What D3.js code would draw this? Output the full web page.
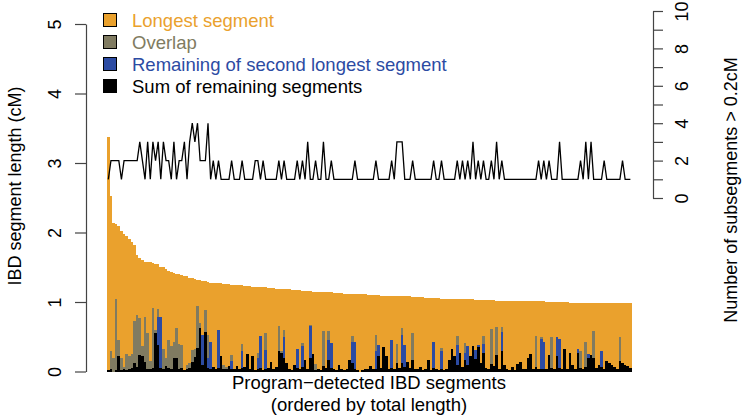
<!DOCTYPE html>
<html><head><meta charset="utf-8">
<script src="https://cdn.jsdelivr.net/npm/d3@7"></script>
<style>
html,body{margin:0;padding:0;background:#fff;}
svg text{font-family:"Liberation Sans",Arial,Helvetica,sans-serif;}
</style></head>
<body>
<svg id="chart" width="742" height="417"></svg>
<script>
// ---- data ----
const totalLength = [
3.38,2.52,2.14,2.12,2.09,2.02,1.98,1.95,1.90,1.86,
1.82,1.68,1.64,1.60,1.58,1.57,1.57,1.56,1.55,1.54,
1.51,1.50,1.48,1.45,1.43,1.42,1.41,1.40,1.39,1.38,
1.37,1.35,1.34,1.33,1.32,1.31,1.30,1.30,1.29,1.28,
1.28,1.27,1.27,1.27,1.26,1.26,1.26,1.25,1.25,1.25,
1.24,1.24,1.23,1.23,1.23,1.22,1.22,1.22,1.21,1.21,
1.21,1.20,1.20,1.20,1.19,1.19,1.19,1.18,1.18,1.18,
1.17,1.17,1.17,1.17,1.16,1.16,1.16,1.16,1.15,1.15,
1.15,1.15,1.14,1.14,1.14,1.14,1.13,1.13,1.13,1.13,
1.12,1.12,1.12,1.12,1.11,1.11,1.11,1.11,1.11,1.10,
1.10,1.10,1.10,1.10,1.09,1.09,1.09,1.09,1.09,1.09,
1.08,1.08,1.08,1.08,1.08,1.08,1.07,1.07,1.07,1.07,
1.07,1.06,1.06,1.06,1.06,1.06,1.06,1.05,1.05,1.05,
1.05,1.05,1.05,1.04,1.04,1.04,1.04,1.04,1.04,1.04,
1.03,1.03,1.03,1.03,1.03,1.03,1.03,1.03,1.02,1.02,
1.02,1.02,1.02,1.02,1.02,1.02,1.02,1.02,1.01,1.01,
1.01,1.01,1.01,1.01,1.01,1.01,1.01,1.00,1.00,1.00,
1.00,1.00,1.00,1.00,1.00,1.00,0.99,0.99,0.99,0.99,
0.99,0.99,0.99,0.99,0.99,0.99,0.99,0.99,0.98,0.98,
0.98,0.98,0.98,0.98,0.98,0.98,0.98,0.98,0.98,0.98];

const remainingSum = [
.02,.03,0,.02,.22,.02,.03,.02,.04,.05,
.12,.06,.24,.22,.13,.04,.03,.05,.56,.38,
.05,.03,.08,.05,.03,.20,.20,.04,.05,.02,
.03,.05,.13,.21,.34,.62,.10,.57,.05,.04,
.07,.03,.05,.22,.04,.03,.08,.04,.03,.08,
.03,.05,.06,.25,.03,.23,.02,.03,.05,.02,
.03,.05,.13,.04,.06,.29,.26,.19,.12,.03,
.02,.10,.05,.03,.06,.17,.04,.19,.25,.02,
.03,.02,.08,.05,.17,.05,.03,.02,.10,.04,
.02,.03,.16,.12,.04,.02,0,.02,.04,.03,
.08,.03,.04,.22,.05,.35,.23,.03,.05,.03,
.12,.05,.12,.06,.14,.05,.17,.04,.03,.07,
.02,.03,.17,.02,.05,.03,.02,.03,.02,.03,
.17,.32,.23,.10,.26,.06,.17,.10,.22,.36,
.18,.35,.12,.27,.05,.04,.11,.08,.24,.04,
.29,.10,.03,.02,.07,.02,.11,.14,.03,.04,
.20,.25,.04,.07,.03,.04,.04,.03,.24,.05,
.03,.22,.05,.04,.32,.04,.27,.10,.03,.26,
.05,.04,.07,.20,.24,.20,.05,.10,.07,.04,
.15,.12,.10,.06,.03,.15,.12,.10,.08,.05];

const secondRemaining = [
0,0,0,0,0,0,0,0,0,0,
0,0,0,0,0,0,0,0,0,.41,
.73,0,0,0,0,0,0,0,0,0,
0,0,0,0,0,0,.42,0,.15,.39,
0,0,.55,0,0,0,0,.11,0,0,
0,.24,0,0,0,0,0,.17,.46,0,
.28,0,0,0,0,0,0,.31,0,0,
0,0,.27,0,.31,0,0,.46,0,0,
0,0,0,0,.29,.36,0,0,0,0,
0,0,0,.31,.38,0,0,0,0,0,
0,0,.25,.16,0,0,0,0,.40,0,
0,0,.41,.32,0,0,0,0,0,0,
0,0,0,0,.38,0,0,.26,0,0,
0,0,0,.28,0,0,.09,.26,0,0,
.13,.03,0,.13,0,0,0,0,0,0,
.28,0,0,0,0,0,0,0,0,0,
0,0,0,0,0,.43,.39,0,0,0,
0,.28,.42,0,0,0,0,0,0,.06,
0,0,0,.05,0,0,0,0,.22,0,
0,0,0,0,0,0,0,0,0,0];

const overlapLen = [
0,.27,.19,1.03,.24,.17,.03,.23,.18,.20,
.60,.76,.53,.14,.65,.51,.12,.87,.04,.11,
0,.29,.11,.40,.33,.23,.42,.36,.33,0,
.07,.07,.18,.11,.60,.08,0,.32,.32,0,
0,0,0,0,.05,.04,0,.09,0,0,
0,.11,0,0,0,0,0,.07,0,0,
.24,0,0,0,0,.37,.04,.10,0,0,
0,0,0,0,.04,0,0,.02,0,.09,
0,0,.50,0,.12,0,0,0,0,0,
0,0,0,.08,0,0,0,0,0,0,
0,0,.24,0,0,0,0,0,0,0,
.28,0,.09,0,0,0,.39,0,0,0,
0,0,0,0,0,0,0,.05,0,0,
0,0,0,.13,0,0,.15,0,0,0,
0,0,0,.11,0,0,.50,0,.40,0,
.07,0,0,0,0,0,0,0,0,0,
0,0,0,.44,0,.03,0,0,0,.45,
0,0,0,0,0,0,0,0,0,0,
.25,0,.36,0,0,.38,0,0,0,0,
0,0,0,0,0,.34,0,0,0,0];

const subsegCount = [
1,2,2,2,2,1,2,2,2,2,
2,2,3,2,1,3,1,3,2,3,
1,3,2,2,1,3,1,2,2,3,
1,3,4,3,4,2,2,2,4,1,
2,1,2,1,1,1,1,2,1,1,
1,2,1,1,1,1,2,2,1,2,
1,1,1,1,1,2,1,2,1,1,
1,1,2,1,2,1,3,1,1,2,
1,1,3,1,1,2,1,1,1,1,
1,1,1,1,2,1,1,1,1,1,
1,1,2,1,1,1,1,1,2,1,
3,3,3,1,1,1,2,1,1,1,
1,1,1,1,2,1,1,2,1,1,
1,1,1,2,1,2,1,2,1,3,
1,2,1,2,1,1,2,1,3,1,
2,1,1,1,1,1,1,1,1,1,
1,1,1,1,2,1,2,1,2,1,
1,1,3,1,1,1,1,1,1,1,
2,1,3,1,3,1,1,1,1,2,
1,1,1,1,1,1,2,1,1,1];

const leftTicks = [0,1,2,3,4,5];
const rightTicks = [0,1,2,3,4,5,6,7,8,9,10];
const rightTickLabels = [0,2,4,6,8,10];
const legendLabels = ["Longest segment","Overlap","Remaining of second longest segment","Sum of remaining segments"];
const colors = {longest:"#EAA12D", overlap:"#807B61", second:"#2C4BA3", rest:"#000000"};
const legendColors = [colors.longest, colors.overlap, colors.second, colors.rest];
const legendTextColors = ["#EAA12D","#807B61","#2C4BA3","#000000"];

// ---- build ----
const N = totalLength.length;
const table = d3.range(N).map(i => ({
  i,
  rest: remainingSum[i],
  second: secondRemaining[i],
  overlap: overlapLen[i],
  longest: Math.max(0, totalLength[i] - remainingSum[i] - secondRemaining[i] - overlapLen[i])
}));
const keys = ["rest","second","overlap","longest"];
const series = d3.stack().keys(keys)(table);

const svg = d3.select("#chart");
const x = d3.scaleBand().domain(d3.range(N)).range([107, 631.7]).padding(0);
const yL = d3.scaleLinear().domain([0,5]).range([371.5, 24]);
const yR = d3.scaleLinear().domain([0,10]).range([198, 11]);

const order = ["longest","rest","second","overlap"];
order.forEach(k => {
  const s = series.find(d => d.key === k);
  svg.append("g").selectAll("rect").data(s).join("rect")
    .attr("x", d => x(d.data.i))
    .attr("width", x.bandwidth())
    .attr("y", d => yL(d[1]))
    .attr("height", d => Math.max(0, yL(d[0]) - yL(d[1])))
    .attr("fill", colors[k])
    .attr("shape-rendering", "crispEdges");
});

// line
const line = d3.line().x((d,i) => x(i) + x.bandwidth()/2).y(d => yR(d));
svg.append("path").datum(subsegCount)
  .attr("d", line).attr("fill","none").attr("stroke","#000").attr("stroke-width",1.3)
  .attr("stroke-linejoin","miter");

// left axis
const axL = svg.append("g").attr("transform","translate(86,0)")
  .call(d3.axisLeft(yL).tickValues(leftTicks).tickSize(11).tickSizeOuter(0).tickFormat(d3.format("d")));
axL.select(".domain").attr("stroke","#444").attr("stroke-width",1.2);
axL.selectAll(".tick line").attr("stroke","#444").attr("stroke-width",1.2);
axL.selectAll(".tick text")
  .attr("x",null).attr("dy",null).attr("text-anchor","middle")
  .attr("transform","translate(-25,0) rotate(-90)")
  .attr("font-size",18).attr("fill","#000");

// right axis
const axR = svg.append("g").attr("transform","translate(653,0)")
  .call(d3.axisRight(yR).tickValues(rightTicks).tickSize(10).tickSizeOuter(0)
    .tickFormat(d => rightTickLabels.includes(d) ? String(d) : ""));
axR.select(".domain").attr("stroke","#444").attr("stroke-width",1.2);
axR.selectAll(".tick line").attr("stroke","#444").attr("stroke-width",1.2);
axR.selectAll(".tick text")
  .attr("x",null).attr("dy",null).attr("text-anchor","middle")
  .attr("transform","translate(35,0) rotate(-90)")
  .attr("font-size",18).attr("fill","#000");

// axis titles
svg.append("text").attr("transform","translate(21,186) rotate(-90)")
  .attr("text-anchor","middle").attr("font-size",18).text("IBD segment length (cM)");
svg.append("text").attr("transform","translate(737,190) rotate(-90)")
  .attr("text-anchor","middle").attr("font-size",18).text("Number of subsegments > 0.2cM");
svg.append("text").attr("x",369).attr("y",389).attr("text-anchor","middle")
  .attr("font-size",18.5).text("Program\u2212detected IBD segments");
svg.append("text").attr("x",369).attr("y",411).attr("text-anchor","middle")
  .attr("font-size",18.5).text("(ordered by total length)");

// legend
const legY = [20, 42, 64, 86];
const leg = svg.append("g");
legendLabels.forEach((lab, k) => {
  leg.append("rect").attr("x",103.5).attr("y",legY[k]-6.5).attr("width",13).attr("height",13)
    .attr("fill",legendColors[k]).attr("stroke","#000").attr("stroke-width",1);
  leg.append("text").attr("x",132).attr("y",legY[k]+6.5).attr("font-size",18.5)
    .attr("fill",legendTextColors[k]).text(lab);
});
</script>
</body></html>
